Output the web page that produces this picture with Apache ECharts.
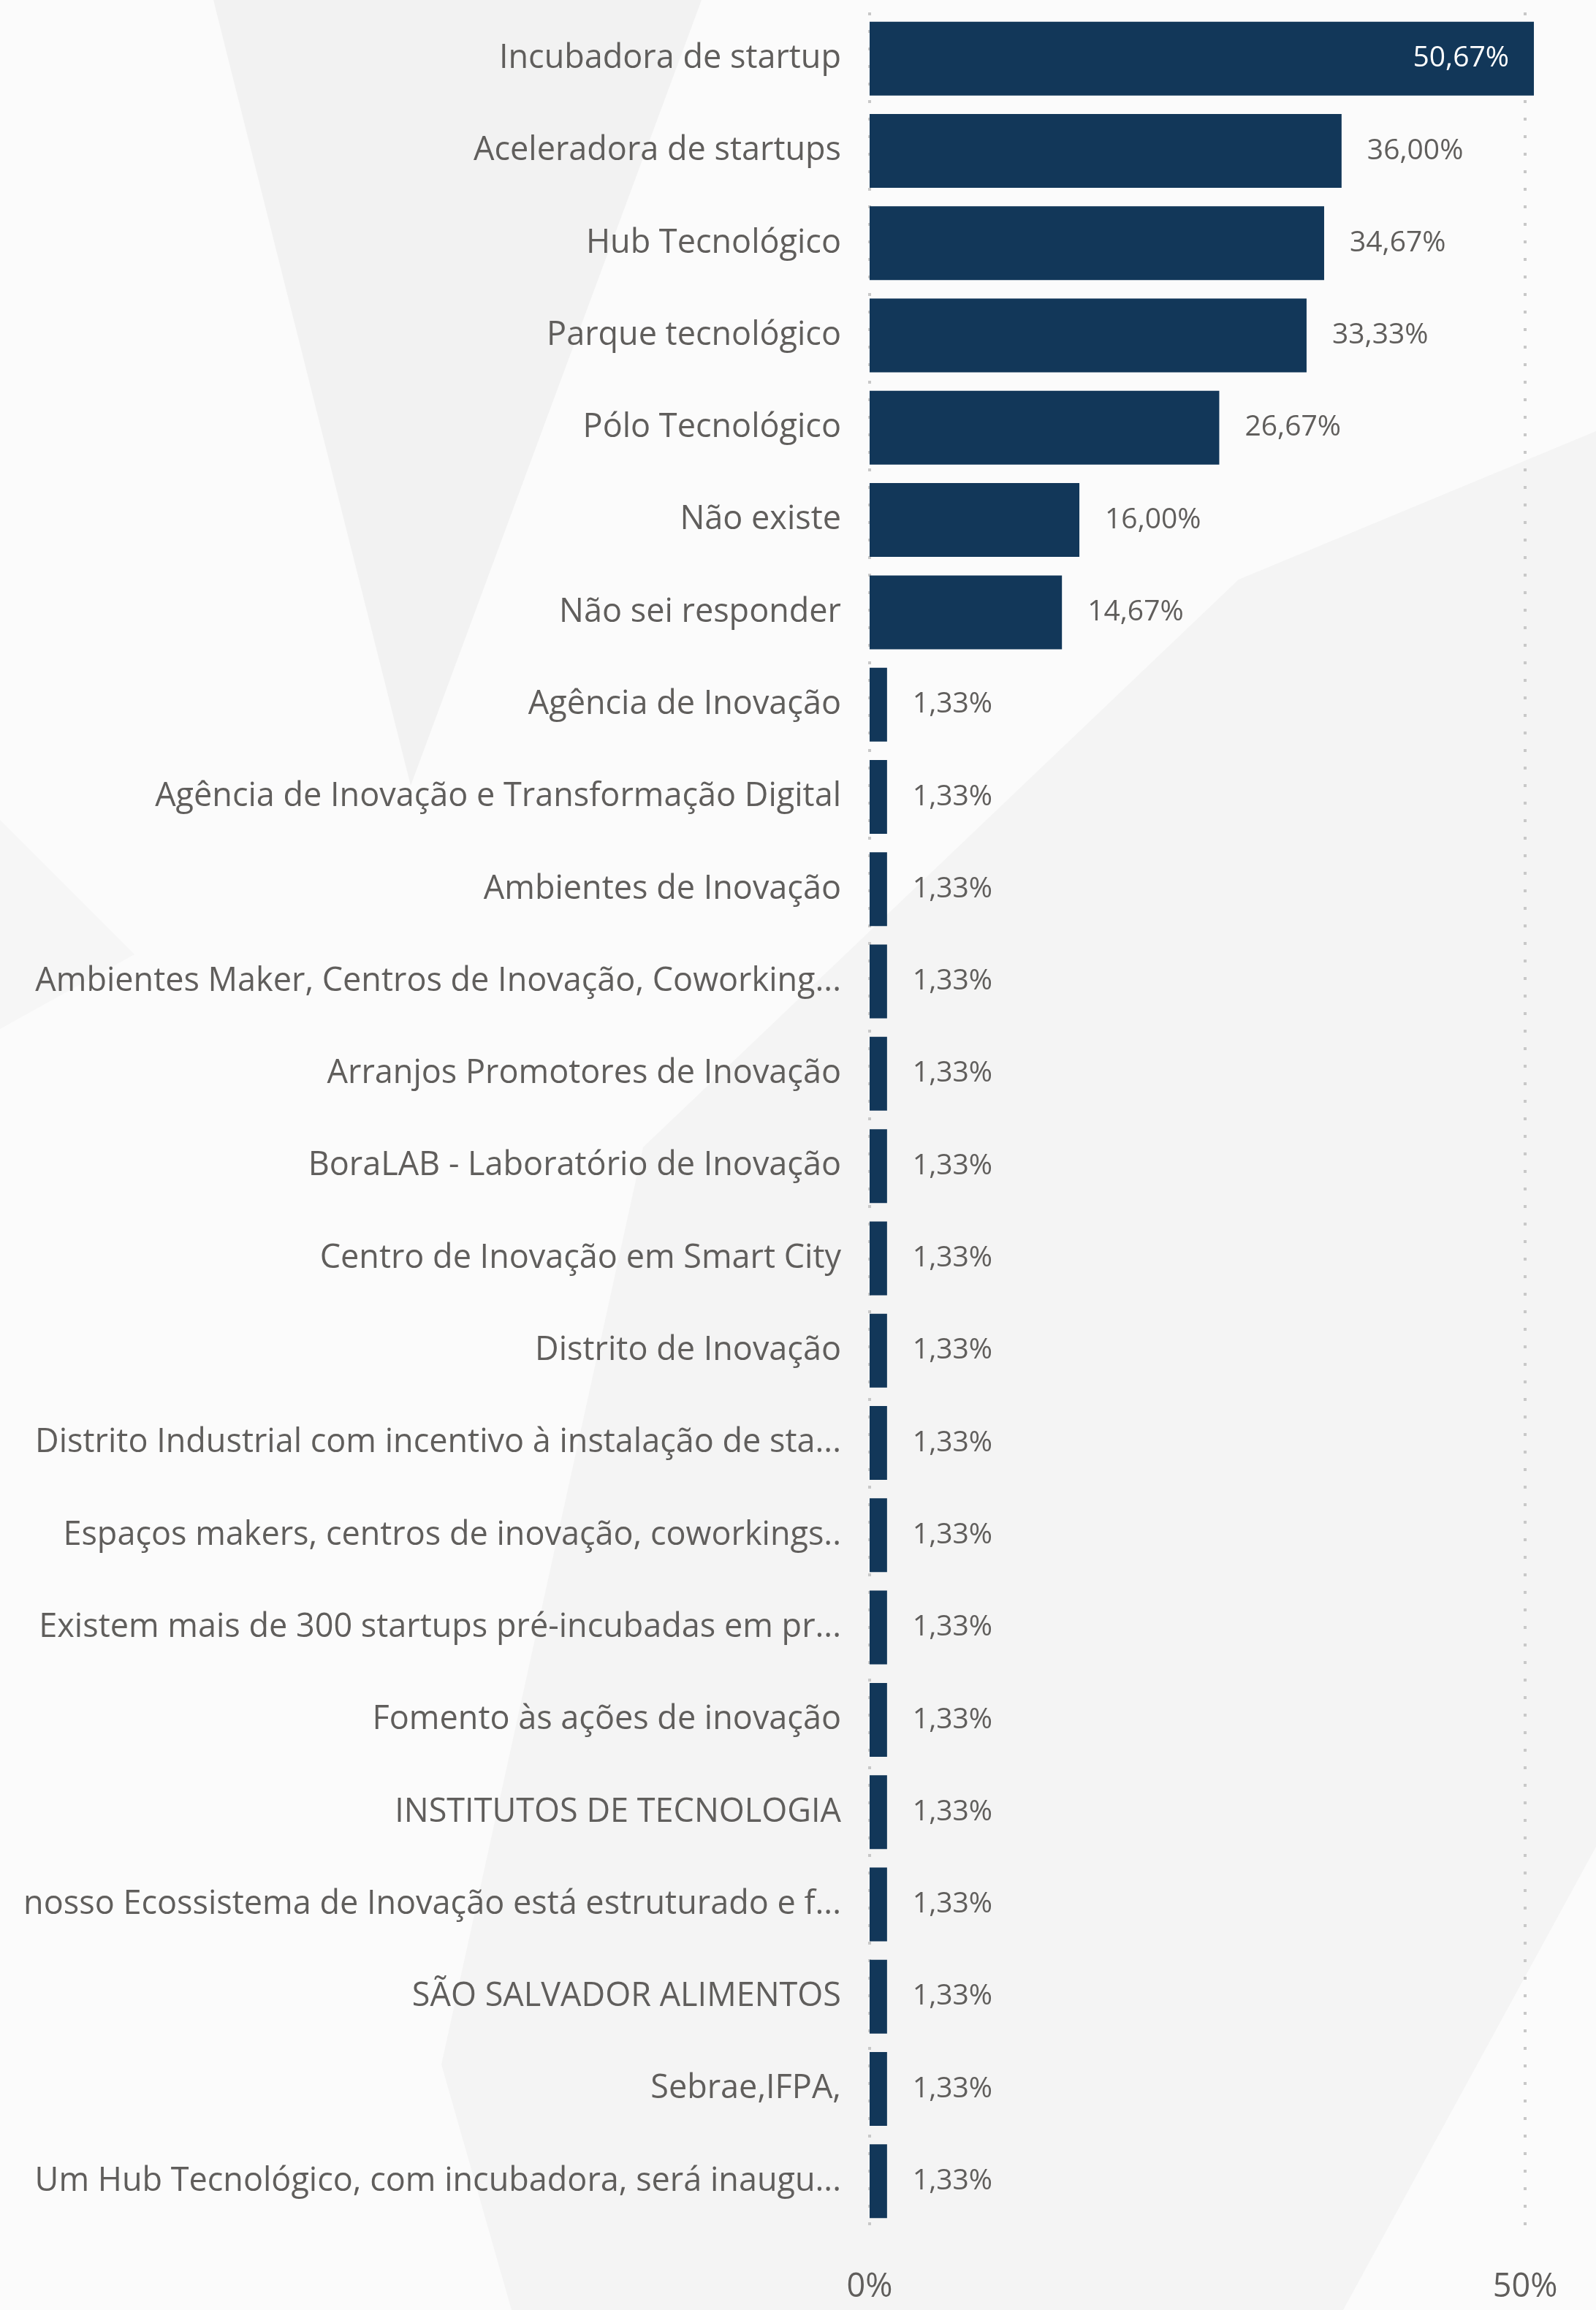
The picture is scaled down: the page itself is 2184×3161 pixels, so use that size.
<!DOCTYPE html>
<html>
<head>
<meta charset="utf-8">
<script src="https://cdn.jsdelivr.net/npm/echarts@6/dist/echarts.min.js"></script>
<style>
  html, body { margin: 0; padding: 0; background: #fbfbfb; }
  #chart { width: 2184px; height: 3161px; }
</style>
</head>
<body>
<div id="chart"></div>
<script>
// categorias (de cima para baixo)
const categories = [
  'Incubadora de startup',
  'Aceleradora de startups',
  'Hub Tecnológico',
  'Parque tecnológico',
  'Pólo Tecnológico',
  'Não existe',
  'Não sei responder',
  'Agência de Inovação',
  'Agência de Inovação e Transformação Digital',
  'Ambientes de Inovação',
  'Ambientes Maker, Centros de Inovação, Coworking...',
  'Arranjos Promotores de Inovação',
  'BoraLAB - Laboratório de Inovação',
  'Centro de Inovação em Smart City',
  'Distrito de Inovação',
  'Distrito Industrial com incentivo à instalação de sta...',
  'Espaços makers, centros de inovação, coworkings..',
  'Existem mais de 300 startups pré-incubadas em pr...',
  'Fomento às ações de inovação',
  'INSTITUTOS DE TECNOLOGIA',
  'nosso Ecossistema de Inovação está estruturado e f...',
  'SÃO SALVADOR ALIMENTOS',
  'Sebrae,IFPA,',
  'Um Hub Tecnológico, com incubadora, será inaugu...'
];

// percentuais
const values = [
  50.67, 36.00, 34.67, 33.33, 26.67, 16.00, 14.67,
  1.33, 1.33, 1.33, 1.33, 1.33, 1.33, 1.33, 1.33, 1.33,
  1.33, 1.33, 1.33, 1.33, 1.33, 1.33, 1.33, 1.33
];

// ticks do eixo x
const xTicks = [0, 50];

const FONT = '"Segoe UI", "Open Sans", sans-serif';
const TEXT = '#605e5c';
const BAR = '#123759';

const fmt = v => v.toFixed(2).replace('.', ',') + '%';

const chart = echarts.init(document.getElementById('chart'));

// formas de fundo (tema)
const bgShapes = [
  { points: [[292, 0], [960, 0], [562, 1075]], fill: '#f2f2f2' },
  { points: [[0, 1122], [184, 1306], [0, 1408]], fill: '#f6f6f6' },
  { points: [[1695, 793], [2184, 590], [2184, 2527], [1838, 3161], [700, 3161], [604, 2825], [880, 1570]], fill: '#f4f4f4' }
];

const option = {
  backgroundColor: '#fbfbfb',
  animation: false,
  graphic: bgShapes.map(s => ({
    type: 'polygon',
    silent: true,
    z: -10,
    shape: { points: s.points },
    style: { fill: s.fill }
  })),
  grid: {
    left: 1190,
    top: 17,
    width: 897,
    height: 3031
  },
  xAxis: {
    type: 'value',
    min: xTicks[0],
    max: xTicks[xTicks.length - 1],
    interval: xTicks[1] - xTicks[0],
    axisLine: { show: false },
    axisTick: { show: false },
    axisLabel: {
      formatter: '{value}%',
      fontFamily: FONT,
      fontSize: 45,
      color: TEXT,
      margin: 60
    },
    splitLine: {
      show: true,
      lineStyle: { color: '#c8c8c8', width: 4, type: [4, 20] }
    }
  },
  yAxis: {
    type: 'category',
    inverse: true,
    data: categories,
    axisLine: { show: false },
    axisTick: { show: false },
    axisLabel: {
      fontFamily: FONT,
      fontSize: 45,
      color: TEXT,
      margin: 39,
      padding: [4, 0, 0, 0]
    }
  },
  series: [{
    type: 'bar',
    clip: false,
    barCategoryGap: '20%',
    itemStyle: { color: BAR },
    label: {
      show: true,
      position: 'right',
      distance: 35,
      fontFamily: FONT,
      fontSize: 39,
      color: TEXT,
      padding: [4, 0, 0, 0],
      formatter: p => fmt(p.value)
    },
    data: values.map((v, i) => i === 0 ? {
      value: v,
      label: { position: 'insideRight', distance: 34, color: '#ffffff' }
    } : v)
  }]
};

chart.setOption(option);
</script>
</body>
</html>
